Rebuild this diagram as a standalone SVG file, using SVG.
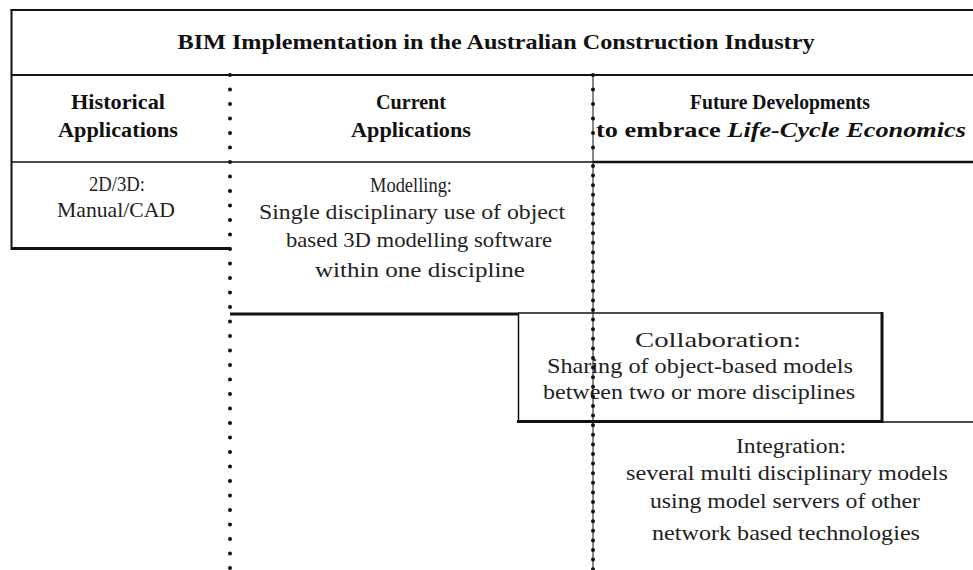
<svg xmlns="http://www.w3.org/2000/svg" width="973" height="570" viewBox="0 0 973 570">
<style>
.hd{font-family:"Liberation Serif","Times New Roman",serif;font-weight:bold;font-size:22px;fill:#111;text-anchor:middle}
.it{font-style:italic}
.bd{font-family:"Liberation Serif","Times New Roman",serif;font-size:21px;fill:#222;text-anchor:middle}
.ln{stroke:#111;fill:none}
.dots{stroke:#111;stroke-linecap:round;fill:none}
</style>
<rect width="973" height="570" fill="#fff"/>
<g id="frame">
<line class="ln" x1="10.5" y1="10" x2="973" y2="10" stroke-width="2"/>
<line class="ln" x1="11.5" y1="9" x2="11.5" y2="250" stroke-width="2"/>
<line class="ln" x1="11" y1="75" x2="973" y2="75" stroke-width="2" stroke="#444"/>
<line class="ln" x1="11" y1="162" x2="593" y2="162" stroke-width="1.5" stroke="#555"/>
<line class="ln" x1="593" y1="162" x2="973" y2="162" stroke-width="2.5"/>
</g>
<g id="title">
<text class="hd" x="496" y="49" textLength="637" lengthAdjust="spacingAndGlyphs">BIM Implementation in the Australian Construction Industry</text>
</g>
<g id="col-historical">
<text class="hd" x="118" y="109" textLength="94" lengthAdjust="spacingAndGlyphs">Historical</text>
<text class="hd" x="118" y="137" textLength="120" lengthAdjust="spacingAndGlyphs">Applications</text>
</g>
<g id="col-current">
<text class="hd" x="411" y="109" textLength="70" lengthAdjust="spacingAndGlyphs">Current</text>
<text class="hd" x="411" y="137" textLength="120" lengthAdjust="spacingAndGlyphs">Applications</text>
</g>
<g id="col-future">
<text class="hd" x="780" y="109" textLength="180" lengthAdjust="spacingAndGlyphs">Future Developments</text>
<text class="hd" x="781" y="137" textLength="370" lengthAdjust="spacingAndGlyphs">to embrace <tspan class="it">Life-Cycle Economics</tspan></text>
</g>
<g id="historical">
<line class="ln" x1="11" y1="248.5" x2="231" y2="248.5" stroke-width="3"/>
<text class="bd" x="117" y="191" textLength="56" lengthAdjust="spacingAndGlyphs">2D/3D:</text>
<text class="bd" x="116" y="217" textLength="118" lengthAdjust="spacingAndGlyphs">Manual/CAD</text>
</g>
<g id="modelling">
<line class="ln" x1="230" y1="314" x2="519" y2="314" stroke-width="3"/>
<text class="bd" x="411" y="192" textLength="82" lengthAdjust="spacingAndGlyphs">Modelling:</text>
<text class="bd" x="412" y="219" textLength="306" lengthAdjust="spacingAndGlyphs">Single disciplinary use of object</text>
<text class="bd" x="419" y="247" textLength="266" lengthAdjust="spacingAndGlyphs">based 3D modelling software</text>
<text class="bd" x="420" y="277" textLength="210" lengthAdjust="spacingAndGlyphs">within one discipline</text>
</g>
<g id="collaboration">
<line class="ln" x1="518" y1="313" x2="882" y2="313" stroke-width="1.5"/>
<line class="ln" x1="518.5" y1="313" x2="518.5" y2="422" stroke-width="1.5"/>
<line class="ln" x1="882" y1="312" x2="882" y2="423" stroke-width="3"/>
<line class="ln" x1="517" y1="421.5" x2="883" y2="421.5" stroke-width="3"/>
<line class="ln" x1="882" y1="422" x2="973" y2="422" stroke-width="1.5"/>
<text class="bd" x="718" y="347" textLength="166" lengthAdjust="spacingAndGlyphs">Collaboration:</text>
<text class="bd" x="700" y="373" textLength="306" lengthAdjust="spacingAndGlyphs">Sharing of object-based models</text>
<text class="bd" x="699" y="399" textLength="312" lengthAdjust="spacingAndGlyphs">between two or more disciplines</text>
</g>
<g id="integration">
<text class="bd" x="791" y="453" textLength="110" lengthAdjust="spacingAndGlyphs">Integration:</text>
<text class="bd" x="787" y="480" textLength="322" lengthAdjust="spacingAndGlyphs">several multi disciplinary models</text>
<text class="bd" x="785" y="508" textLength="270" lengthAdjust="spacingAndGlyphs">using model servers of other</text>
<text class="bd" x="786" y="540" textLength="268" lengthAdjust="spacingAndGlyphs">network based technologies</text>
</g>
<g id="connectors">
<line class="dots" x1="230" y1="75" x2="230" y2="570" stroke-width="4" stroke-dasharray="0 14.5"/>
<line class="ln" x1="593" y1="75" x2="593" y2="570" stroke-width="1"/>
<line class="dots" x1="593" y1="75" x2="593" y2="162" stroke-width="4" stroke-dasharray="0 14.5"/>
<line class="dots" x1="593" y1="166" x2="593" y2="570" stroke-width="4" stroke-dasharray="0 9.6"/>
</g>
</svg>
